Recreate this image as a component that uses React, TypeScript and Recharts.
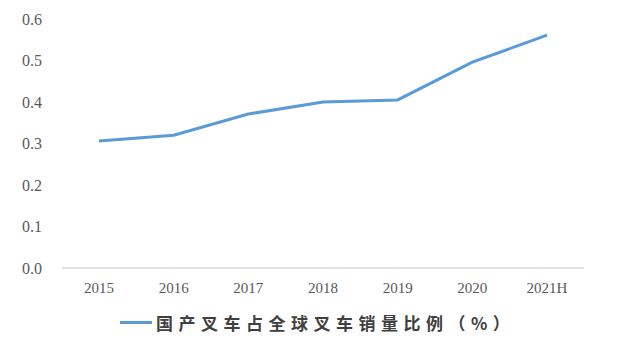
import { LineChart, Line, XAxis, YAxis, CartesianGrid, Legend } from "recharts";

const BLUE = "#5b9bd5";
const TICK = "#595959";
const AXIS = "#d9d9d9";

const YEARS = ["2015", "2016", "2017", "2018", "2019", "2020", "2021H"];
const SHARE = [0.306, 0.32, 0.371, 0.4, 0.405, 0.496, 0.561];
const Y_TICKS = [0, 0.1, 0.2, 0.3, 0.4, 0.5, 0.6];
const SERIES_NAME = "国产叉车占全球叉车销量比例（%）";

const data = YEARS.map((year, i) => ({ year, share: SHARE[i] }));

function LegendContent() {
  return (
    <div style={{ display: "flex", alignItems: "center" }}>
      <div style={{ width: 32, height: 3, background: BLUE, marginRight: 4 }} />
      <span
        style={{
          fontFamily: "'Noto Sans CJK SC', sans-serif",
          fontWeight: 700,
          fontSize: 17,
          letterSpacing: 5.5,
          color: "#404040",
        }}
      >
        {SERIES_NAME}
      </span>
    </div>
  );
}

export default function App() {
  return (
    <div style={{ position: "absolute", left: 0, top: 0, background: "#fff" }}>
      <LineChart
        width={644}
        height={352}
        data={data}
        margin={{ top: 19, right: 60, left: 0, bottom: 54 }}
      >
        <CartesianGrid horizontal={false} vertical={false} />
        <XAxis
          dataKey="year"
          padding={{ left: 37, right: 37 }}
          axisLine={{ stroke: AXIS, strokeWidth: 1.5 }}
          tickLine={false}
          tick={{ fontSize: 15, fill: TICK, fontFamily: "'Liberation Serif', serif" }}
          tickMargin={8}
          height={30}
        />
        <YAxis
          width={62}
          domain={[0, 0.6]}
          ticks={Y_TICKS}
          tickFormatter={(v: number) => v.toFixed(1)}
          axisLine={false}
          tickLine={false}
          tick={{ fontSize: 16, fill: TICK, fontFamily: "'Liberation Serif', serif" }}
          tickMargin={14}
        />
        <Legend
          layout="horizontal"
          verticalAlign="middle"
          align="center"
          content={<LegendContent />}
          wrapperStyle={{ position: "absolute", top: 310, left: 120, width: "auto" }}
        />
        <Line
          type="linear"
          dataKey="share"
          name={SERIES_NAME}
          stroke={BLUE}
          strokeWidth={3}
          dot={false}
          isAnimationActive={false}
        />
      </LineChart>
    </div>
  );
}
